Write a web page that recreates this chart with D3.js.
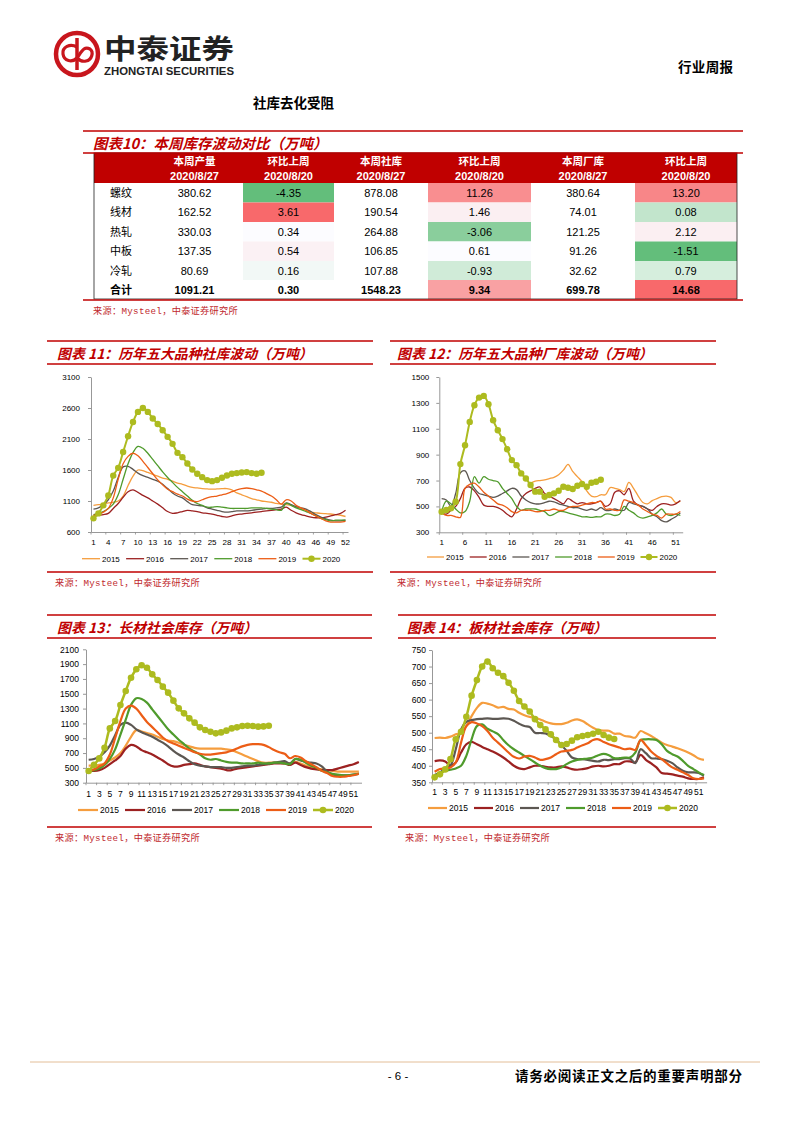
<!DOCTYPE html>
<html><head><meta charset="utf-8">
<script src="https://cdn.jsdelivr.net/npm/d3@7/dist/d3.min.js"></script>
<style>
html,body{margin:0;padding:0;background:#fff;}
svg{display:block;}
</style></head>
<body>
<svg id="page" width="793" height="1122" xmlns="http://www.w3.org/2000/svg"></svg>
<script>
// ---------------- DATA ----------------
const weeks = d3.range(1, 53);
const years = ['2015','2016','2017','2018','2019','2020'];

// Table 10
const tableRows = ['螺纹','线材','热轧','中板','冷轧','合计'];
const colHeads1 = ['本周产量','环比上周','本周社库','环比上周','本周厂库','环比上周'];
const colHeads2 = ['2020/8/27','2020/8/20','2020/8/27','2020/8/20','2020/8/27','2020/8/20'];
const output       = [380.62, 162.52, 330.03, 137.35, 80.69, 1091.21];
const outputChg    = [-4.35, 3.61, 0.34, 0.54, 0.16, 0.30];
const socialStock  = [878.08, 190.54, 264.88, 106.85, 107.88, 1548.23];
const socialChg    = [11.26, 1.46, -3.06, 0.61, -0.93, 9.34];
const factoryStock = [380.64, 74.01, 121.25, 91.26, 32.62, 699.78];
const factoryChg   = [13.20, 0.08, 2.12, -1.51, 0.79, 14.68];

// Chart 11: five major products social inventory
const c11_2015 = [1030,1040,1050,1070,1080,1100,1180,1350,1500,1600,1590,1560,1530,1500,1470,1450,1420,1390,1370,1340,1320,1310,1300,1295,1290,1295,1300,1300,1280,1230,1200,1170,1140,1120,1100,1090,1080,1060,1050,1040,1030,1000,970,950,920,910,900,895,890,880,870,850];
const c11_2016 = [860,870,880,900,980,1060,1160,1250,1280,1240,1190,1150,1100,1050,990,930,900,910,930,950,940,930,910,900,890,870,850,840,860,880,890,900,910,920,930,940,950,960,970,1000,950,910,880,860,840,830,830,840,860,880,900,950];
const c11_2017 = [970,990,1040,1120,1260,1480,1650,1660,1610,1550,1510,1480,1450,1420,1370,1300,1230,1180,1150,1090,1040,1030,1020,990,970,950,930,920,930,940,940,940,950,960,970,980,980,990,1000,1070,1040,1010,990,970,930,880,840,810,790,780,780,790];
const c11_2018 = [880,900,930,980,1050,1200,1450,1700,1880,1980,1950,1870,1770,1670,1570,1480,1400,1320,1250,1180,1110,1060,1030,1000,1000,1010,1000,990,980,980,980,980,990,990,990,980,970,960,950,1060,1030,990,960,930,900,860,820,800,780,790,790,790];
const c11_2019 = [870,880,920,980,1150,1450,1700,1820,1870,1830,1740,1640,1540,1440,1360,1290,1250,1210,1180,1130,1100,1090,1120,1150,1170,1180,1200,1220,1250,1280,1300,1310,1300,1280,1260,1220,1180,1120,1050,1120,1100,1030,990,950,900,860,820,780,760,760,760,770];
const c11_2020 = [820,900,1030,1190,1510,1635,1890,2145,2375,2537,2600,2537,2430,2343,2242,2135,2022,1877,1807,1705,1609,1539,1485,1437,1420,1437,1475,1512,1539,1550,1560,1566,1550,1540,1555];

// Chart 12: five major products factory inventory
const c12_2015 = [null,null,null,null,null,null,null,null,null,null,null,null,null,null,null,null,null,null,null,680,695,700,705,715,725,745,780,825,770,730,690,620,580,575,590,590,645,640,630,615,685,640,580,530,520,545,560,575,580,570,530,540];
const c12_2016 = [450,440,470,500,560,640,650,620,570,510,500,500,490,470,440,420,480,560,600,620,640,650,600,580,560,540,520,560,540,520,530,520,520,530,540,500,520,610,620,590,640,540,510,500,480,470,500,520,520,510,520,545];
const c12_2017 = [560,550,500,600,760,775,700,640,600,590,580,570,580,600,620,640,630,580,550,530,520,520,530,540,535,520,510,500,490,490,480,470,480,470,490,470,470,480,470,470,530,520,510,500,480,440,420,390,380,400,420,450];
const c12_2018 = [460,540,520,480,450,460,540,730,680,730,710,700,690,640,600,560,500,470,480,480,480,470,460,430,440,460,460,450,440,430,420,420,415,420,420,440,440,430,440,500,470,450,420,410,420,430,450,480,440,430,440,430];
const c12_2019 = [450,430,430,420,415,640,670,680,650,610,580,550,520,510,490,460,450,470,470,470,460,460,470,470,480,470,470,490,500,500,510,520,530,530,540,480,480,470,470,550,540,530,510,480,460,440,430,410,440,440,440,460];
const c12_2020 = [459,472,485,536,827,973,1153,1282,1341,1354,1290,1166,1089,1020,942,858,819,755,716,665,614,614,575,588,601,621,652,644,634,660,673,652,683,691,706];

// Chart 13: long products social inventory
const c13_2015 = [530,530,540,560,600,640,700,800,920,1010,990,970,950,920,890,870,860,840,810,790,770,760,760,760,760,760,750,740,710,680,650,620,590,570,570,570,570,560,560,580,560,530,510,490,480,470,460,450,450,450,450,450];
const c13_2016 = [460,460,470,500,550,600,660,760,810,790,740,710,680,640,600,550,520,520,540,550,560,540,520,510,500,490,470,470,490,500,510,520,530,540,550,560,560,560,540,570,540,510,490,480,470,470,470,490,510,530,550,580];
const c13_2017 = [610,620,650,710,800,940,1080,1110,1080,1020,980,950,920,880,840,790,730,680,640,590,550,530,520,510,510,510,500,500,510,520,530,530,540,550,560,570,580,590,560,620,600,580,570,560,520,450,410,400,400,400,410,420];
const c13_2018 = [460,470,490,540,620,750,950,1150,1350,1440,1430,1380,1290,1200,1110,1020,950,880,820,760,720,680,630,610,620,600,580,570,570,560,560,560,570,560,560,570,570,560,550,620,610,570,530,500,460,440,420,410,400,400,410,420];
const c13_2019 = [460,480,520,560,680,900,1130,1300,1340,1300,1210,1120,1050,980,910,860,830,800,770,740,710,690,680,680,690,700,710,730,760,790,810,820,820,810,780,740,710,690,630,660,640,590,550,510,460,430,390,380,380,390,400,420];
const c13_2020 = [457,540,628,772,1033,1132,1348,1537,1717,1830,1884,1852,1762,1686,1596,1515,1407,1303,1236,1168,1110,1047,1011,988,966,979,1002,1033,1047,1065,1069,1065,1056,1060,1069];

// Chart 14: flat products social inventory
const c14_2015 = [484,485,484,488,495,500,520,550,575,590,588,583,576,578,572,570,560,553,548,545,540,533,528,526,526,530,537,540,535,525,515,508,506,506,497,497,490,488,485,505,498,490,480,470,463,458,453,447,440,432,422,418];
const c14_2016 = [414,416,413,400,410,440,465,472,465,457,450,443,435,425,413,400,392,390,395,400,400,397,395,395,398,395,390,388,390,393,398,400,398,400,405,405,413,413,410,433,418,407,395,378,376,374,370,367,362,360,360,365];
const c14_2017 = [372,380,390,400,450,510,533,538,541,542,543,542,542,543,542,536,527,520,517,500,499,498,490,480,462,445,425,420,420,418,415,413,418,417,420,420,423,422,408,450,438,423,422,420,415,408,395,385,380,380,378,370];
const c14_2018 = [370,378,385,388,392,400,430,480,520,525,512,504,496,478,462,450,440,430,420,410,400,393,390,390,395,405,413,418,420,422,425,432,436,432,423,423,425,425,440,478,480,480,478,465,445,435,428,415,400,390,380,372];
const c14_2019 = [382,390,392,395,410,470,520,532,528,520,505,485,470,455,440,427,422,428,430,425,418,420,425,435,443,445,448,455,462,468,478,480,472,465,460,455,450,452,448,478,462,443,430,420,407,395,388,380,372,362,360,362];
const c14_2020 = [365,374,389,420,480,503,548,612,659,700,715,695,681,671,651,627,596,579,564,541,523,510,495,478,463,466,476,486,490,493,497,503,493,485,481];

// ---------------- STYLE ----------------
const CJK = '"Noto Sans CJK SC", "Noto Sans", sans-serif';
const SANS = '"Liberation Sans", Arial, sans-serif';
const MONO = '"Liberation Mono", "Noto Sans CJK SC", monospace';
const RED = '#C00000';
const yearColors = ['#F59D3E','#9C2121','#5C5752','#4F9B2C','#EC5D16','#ADBB1F'];
const cellFill = [
  [null,'#63BE7B',null,'#F98E90',null,'#F88688'],
  [null,'#F8696B',null,'#FBEFF2',null,'#C2E5CC'],
  [null,'#FCFCFF',null,'#8ACE9C',null,'#FBEFF2'],
  [null,'#FBF1F4',null,'#FCFCFF',null,'#63BE7B'],
  [null,'#F2F8F6',null,'#D0EBD8',null,'#D6EEDD'],
  [null,'#FFFFFF',null,'#F9A1A3',null,'#F8696B']
];

const svg = d3.select('#page');
svg.append('rect').attr('width',793).attr('height',1122).attr('fill','#fff');

// ---------------- HEADER ----------------
const logo = svg.append('g');
logo.append('circle').attr('cx',77).attr('cy',54).attr('r',21).attr('fill','none').attr('stroke','#C8161D').attr('stroke-width',4.5);
logo.append('path').attr('d','M77,38 L77,70').attr('stroke','#C8161D').attr('stroke-width',3.5);
logo.append('path').attr('d','M77,47 C70,43 62,47 63,54 C64,61 72,63 77,58 C82,51 84,46 90,49 C94,52 92,60 86,61 C82,62 79,60 77,58')
  .attr('fill','none').attr('stroke','#C8161D').attr('stroke-width',3.2);
svg.append('text').attr('x',104).attr('y',59).attr('font-family',CJK).attr('font-weight',700).attr('font-size',27)
  .attr('textLength',130).attr('lengthAdjust','spacingAndGlyphs').attr('fill','#222').text('中泰证券');
svg.append('text').attr('x',104).attr('y',75).attr('font-family',SANS).attr('font-weight',700).attr('font-size',10.5)
  .attr('textLength',130).attr('lengthAdjust','spacingAndGlyphs').attr('fill','#222').text('ZHONGTAI SECURITIES');
svg.append('text').attr('x',678).attr('y',72).attr('font-family',CJK).attr('font-weight',700).attr('font-size',13.5)
  .attr('textLength',55).attr('fill','#000').text('行业周报');
svg.append('text').attr('x',253).attr('y',108).attr('font-family',CJK).attr('font-weight',700).attr('font-size',13.5)
  .attr('textLength',81).attr('fill','#000').text('社库去化受阻');

// ---------------- TABLE 10 ----------------
function hline(y, x1, x2, color, w){
  svg.append('line').attr('x1',x1).attr('x2',x2).attr('y1',y).attr('y2',y).attr('stroke',color||RED).attr('stroke-width',w||1.3);
}
function title(x, y, t, fs){
  svg.append('text').attr('x',x).attr('y',y).attr('font-family',CJK).attr('font-weight',700).attr('font-style','italic')
    .attr('font-size',fs||13.9).attr('fill',RED).text(t);
}
function source(x, y){
  svg.append('text').attr('x',x).attr('y',y).attr('font-family',MONO).attr('font-size',9.2).attr('fill','#C0282D')
    .attr('letter-spacing',0.3).text('来源：Mysteel，中泰证券研究所');
}

hline(131, 83, 743);
title(93, 148.5, '图表10：本周库存波动对比（万吨）', 14.5);
const colX = [94,146,243,334,428,531,635,737];
const rowY = [153,183,202.5,222,241.5,261,280,299];
const tableCols = [output, outputChg, socialStock, socialChg, factoryStock, factoryChg];
const tg = svg.append('g');
tg.append('rect').attr('x',colX[0]).attr('y',rowY[0]).attr('width',colX[7]-colX[0]).attr('height',rowY[1]-rowY[0]).attr('fill',RED);
colHeads1.forEach((h,i)=>{
  const cx = (colX[i+1]+colX[i+2])/2;
  tg.append('text').attr('x',cx).attr('y',165).attr('text-anchor','middle').attr('font-family',CJK).attr('font-weight',700)
    .attr('font-size',10.5).attr('fill','#fff').text(h);
  tg.append('text').attr('x',cx).attr('y',180).attr('text-anchor','middle').attr('font-family',SANS).attr('font-weight',700)
    .attr('font-size',11).attr('fill','#fff').text(colHeads2[i]);
});
tableRows.forEach((r,ri)=>{
  const y0 = rowY[ri+1], y1 = rowY[ri+2];
  const bold = ri === tableRows.length-1;
  tableCols.forEach((col,ci)=>{
    const f = cellFill[ri][ci];
    if (f) tg.append('rect').attr('x',colX[ci+1]).attr('y',y0).attr('width',colX[ci+2]-colX[ci+1]).attr('height',y1-y0).attr('fill',f);
    tg.append('text').attr('x',(colX[ci+1]+colX[ci+2])/2).attr('y',(y0+y1)/2+4).attr('text-anchor','middle')
      .attr('font-family',SANS).attr('font-weight',bold?700:400).attr('font-size',11).attr('fill','#000')
      .text(col[ri].toFixed(2));
  });
  tg.append('text').attr('x',110).attr('y',(y0+y1)/2+4).attr('font-family',CJK).attr('font-weight',bold?700:400)
    .attr('font-size',11).attr('fill','#000').text(r);
});
tg.append('rect').attr('x',colX[0]).attr('y',rowY[0]).attr('width',colX[7]-colX[0]).attr('height',rowY[7]-rowY[0])
  .attr('fill','none').attr('stroke','#222').attr('stroke-width',0.8);
hline(153, 83, 743);
hline(300, 83, 743);
source(93, 313.5);

// ---------------- LINE CHARTS ----------------
function drawChart(cfg){
  const g = svg.append('g');
  hline(cfg.topY, cfg.px0, cfg.px1);
  title(cfg.tx, cfg.topY+18, cfg.title);
  hline(cfg.topY+23, cfg.px0, cfg.px1);
  hline(cfg.botY, cfg.px0, cfg.px1);
  source(cfg.sx, cfg.botY+13.5);

  const x = d3.scaleBand().domain(weeks).range([cfg.x0, cfg.x1]);
  const cx = w => x(w) + x.bandwidth()/2;
  const y = d3.scaleLinear().domain(cfg.domain).range([cfg.yB, cfg.yT]);

  const ya = g.append('g').attr('transform',`translate(${cfg.x0},0)`)
    .call(d3.axisLeft(y).tickValues(d3.range(cfg.domain[0], cfg.domain[1]+1, cfg.step))
      .tickSize(3).tickSizeOuter(0).tickPadding(cfg.ypad).tickFormat(d=>String(d)));
  const xa = g.append('g').attr('transform',`translate(0,${cfg.yB})`)
    .call(d3.axisBottom(x).tickValues(weeks.filter(w => (w-1) % cfg.every === 0))
      .tickSize(0).tickSizeOuter(0).tickPadding(cfg.xpad));
  [ya, xa].forEach(a => {
    a.select('.domain').attr('stroke','#8C8C8C').attr('stroke-width',0.9);
    a.selectAll('.tick line').attr('stroke','#8C8C8C').attr('stroke-width',0.9);
    a.selectAll('text').attr('font-family',SANS).attr('font-size',cfg.fs).attr('fill','#000');
  });
  g.append('g').selectAll('line').data(weeks.filter(w => (w-1) % cfg.every === 0))
    .join('line').attr('x1',w=>x(w)).attr('x2',w=>x(w)).attr('y1',cfg.yB).attr('y2',cfg.yB+2.5)
    .attr('stroke','#8C8C8C').attr('stroke-width',0.8);

  const line = d3.line().defined(d => d.v != null).x(d => cx(d.w)).y(d => y(d.v)).curve(d3.curveCatmullRom.alpha(0.5));
  cfg.series.forEach((s,i)=>{
    const pts = s.map((v,j)=>({w:j+1, v}));
    const is2020 = i === 5;
    g.append('path').attr('d', line(pts)).attr('fill','none').attr('stroke',yearColors[i])
      .attr('stroke-width', is2020 ? cfg.lw2020 : cfg.lw).attr('stroke-linejoin','round');
    if (is2020){
      g.append('g').selectAll('circle').data(pts).join('circle')
        .attr('cx',d=>cx(d.w)).attr('cy',d=>y(d.v)).attr('r',cfg.r).attr('fill',yearColors[i]);
    }
  });

  const lg = g.append('g');
  years.forEach((yr,i)=>{
    const lx = cfg.legX + i*cfg.legStep;
    lg.append('line').attr('x1',lx).attr('x2',lx+cfg.legLen).attr('y1',cfg.legY).attr('y2',cfg.legY)
      .attr('stroke',yearColors[i]).attr('stroke-width', i===5 ? cfg.lw2020 : cfg.lw);
    if (i===5) lg.append('circle').attr('cx',lx+cfg.legLen/2).attr('cy',cfg.legY).attr('r',cfg.r).attr('fill',yearColors[i]);
    lg.append('text').attr('x',lx+cfg.legLen+2).attr('y',cfg.legY+3).attr('font-family',SANS).attr('font-size',cfg.fs)
      .attr('fill','#000').text(yr);
  });
}

drawChart({
  title:'图表 11：历年五大品种社库波动（万吨）', tx:57, px0:47, px1:373, topY:341, botY:572, sx:55,
  x0:91, x1:348, yT:377, yB:532, domain:[600,3100], step:500, every:3, ypad:8, xpad:7, fs:8,
  lw:1.3, lw2020:2, r:3.2,
  legX:82, legStep:44.1, legLen:18, legY:558.7,
  series:[c11_2015,c11_2016,c11_2017,c11_2018,c11_2019,c11_2020]
});
drawChart({
  title:'图表 12：历年五大品种厂库波动（万吨）', tx:397, px0:390, px1:716, topY:341, botY:572, sx:397,
  x0:439.3, x1:682.7, yT:377, yB:532.3, domain:[300,1500], step:200, every:5, ypad:7, xpad:7, fs:8,
  lw:1.3, lw2020:2, r:3.2,
  legX:427, legStep:42.7, legLen:17, legY:557,
  series:[c12_2015,c12_2016,c12_2017,c12_2018,c12_2019,c12_2020]
});
drawChart({
  title:'图表 13：长材社会库存（万吨）', tx:57, px0:47, px1:372, topY:615, botY:827, sx:55,
  x0:86, x1:361.5, yT:649.3, yB:782.7, domain:[300,2100], step:200, every:2, ypad:4, xpad:8, fs:8.5,
  lw:2.2, lw2020:2.5, r:3.3,
  legX:78, legStep:47, legLen:20, legY:810,
  series:[c13_2015,c13_2016,c13_2017,c13_2018,c13_2019,c13_2020]
});
drawChart({
  title:'图表 14：板材社会库存（万吨）', tx:407, px0:398, px1:716, topY:615, botY:827, sx:405,
  x0:432, x1:706.6, yT:650, yB:782.3, domain:[350,750], step:50, every:2, ypad:3, xpad:6.5, fs:8.5,
  lw:2.2, lw2020:2.5, r:3.3,
  legX:428, legStep:46, legLen:19, legY:808,
  series:[c14_2015,c14_2016,c14_2017,c14_2018,c14_2019,c14_2020]
});

// ---------------- FOOTER ----------------
hline(1062, 30, 760, '#E3BE98', 1);
svg.append('text').attr('x',398).attr('y',1080).attr('text-anchor','middle').attr('font-family',SANS).attr('font-size',11.5)
  .attr('fill','#000').text('- 6 -');
svg.append('text').attr('x',515).attr('y',1081).attr('font-family',CJK).attr('font-weight',700).attr('font-size',13.5)
  .attr('textLength',227).attr('fill','#000').text('请务必阅读正文之后的重要声明部分');
</script>
</body></html>
